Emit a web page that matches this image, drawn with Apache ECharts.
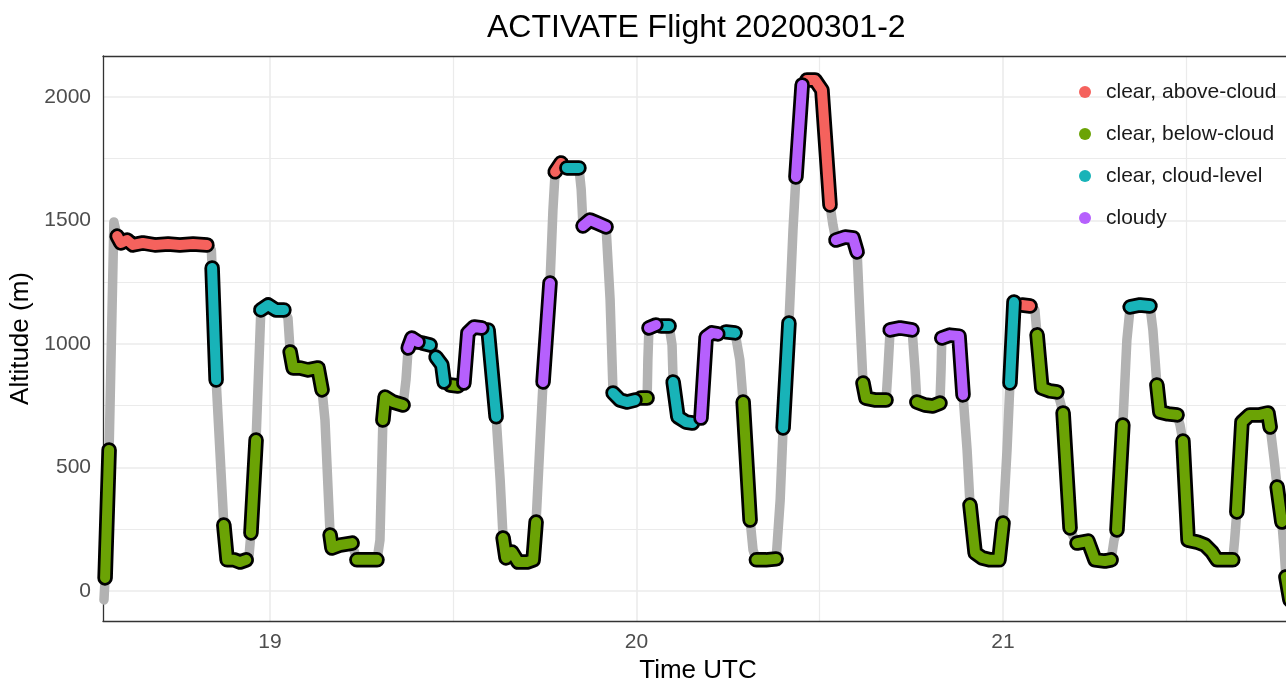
<!DOCTYPE html>
<html>
<head>
<meta charset="utf-8">
<script src="https://cdn.jsdelivr.net/npm/echarts@6/dist/echarts.min.js"></script>
<style>
html,body{margin:0;padding:0;background:#ffffff;}
#chart{width:1286px;height:683px;}
</style>
</head>
<body>
<div id="chart"></div>
<script>
// ---- data ----
const categories = ['clear, above-cloud', 'clear, below-cloud', 'clear, cloud-level', 'cloudy'];
const categoryColors = ['#F5625D', '#6BA305', '#18B3B8', '#B660FD'];

// flight time (decimal hours UTC)
const timeUTC = [
  18.547, 18.550, 18.561, 18.574, 18.583, 18.593, 18.610, 18.626, 18.653, 18.686,
  18.722, 18.754, 18.790, 18.828, 18.840, 18.842, 18.853, 18.874, 18.883, 18.902,
  18.918, 18.935, 18.943, 18.948, 18.962, 18.975, 18.995, 19.016, 19.038, 19.049,
  19.055, 19.063, 19.082, 19.104, 19.131, 19.142, 19.150, 19.164, 19.169, 19.191,
  19.224, 19.229, 19.237, 19.265, 19.292, 19.300, 19.308, 19.314, 19.336, 19.363,
  19.371, 19.377, 19.387, 19.404, 19.415, 19.437, 19.447, 19.453, 19.469, 19.475,
  19.491, 19.513, 19.529, 19.540, 19.557, 19.578, 19.595, 19.617, 19.628, 19.636,
  19.644, 19.660, 19.677, 19.701, 19.718, 19.726, 19.737, 19.745, 19.764, 19.772,
  19.778, 19.794, 19.810, 19.843, 19.849, 19.854, 19.873, 19.892, 19.917, 19.928,
  19.936, 19.955, 19.974, 19.996, 20.012, 20.029, 20.031, 20.034, 20.053, 20.067,
  20.089, 20.097, 20.100, 20.113, 20.135, 20.153, 20.176, 20.190, 20.206, 20.222,
  20.244, 20.269, 20.282, 20.291, 20.310, 20.318, 20.327, 20.353, 20.381, 20.392,
  20.400, 20.416, 20.427, 20.435, 20.452, 20.465, 20.487, 20.506, 20.528, 20.536,
  20.544, 20.569, 20.591, 20.602, 20.610, 20.618, 20.626, 20.653, 20.681, 20.686,
  20.692, 20.719, 20.752, 20.760, 20.765, 20.787, 20.809, 20.828, 20.831, 20.833,
  20.855, 20.880, 20.891, 20.902, 20.910, 20.924, 20.943, 20.965, 20.989, 21.000,
  21.011, 21.019, 21.030, 21.052, 21.074, 21.087, 21.093, 21.106, 21.128, 21.147,
  21.155, 21.164, 21.183, 21.191, 21.202, 21.232, 21.251, 21.278, 21.295, 21.303,
  21.311, 21.327, 21.338, 21.347, 21.374, 21.401, 21.409, 21.420, 21.428, 21.450,
  21.475, 21.483, 21.491, 21.505, 21.530, 21.551, 21.570, 21.584, 21.605, 21.627,
  21.632, 21.638, 21.652, 21.673, 21.701, 21.723, 21.729, 21.740, 21.748, 21.761,
  21.767, 21.772, 21.783
];

// altitude (m)
const altitude = [
  -36, 53, 571, 1494, 1437, 1409, 1421, 1401, 1409, 1401,
  1405, 1401, 1405, 1401, 1380, 1308, 854, 267, 126, 126,
  117, 126, 146, 235, 611, 1138, 1158, 1138, 1138, 1105,
  968, 903, 903, 895, 903, 814, 692, 227, 174, 186,
  194, 166, 126, 126, 126, 206, 692, 785, 765, 753,
  854, 984, 1024, 1008, 1004, 996, 976, 947, 915, 846,
  834, 830, 842, 1045, 1069, 1065, 1057, 705, 449, 215,
  134, 158, 117, 117, 126, 279, 611, 846, 1247, 1543,
  1697, 1733, 1713, 1713, 1628, 1478, 1502, 1490, 1474, 1178,
  802, 773, 765, 773, 781, 781, 935, 1065, 1077, 1073,
  1073, 996, 846, 705, 684, 680, 700, 1028, 1045, 1041,
  1049, 1045, 935, 765, 287, 166, 126, 126, 130, 368,
  660, 1085, 1462, 1676, 2049, 2069, 2069, 2028, 1563, 1482,
  1421, 1433, 1429, 1373, 1097, 842, 781, 773, 773, 895,
  1057, 1065, 1057, 895, 765, 753, 749, 761, 895, 1024,
  1036, 1032, 794, 571, 348, 154, 134, 126, 126, 275,
  571, 842, 1170, 1158, 1154, 1138, 1037, 822, 810, 806,
  773, 721, 255, 223, 194, 202, 126, 121, 126, 206,
  247, 672, 1016, 1150, 1158, 1154, 1057, 834, 725, 717,
  713, 672, 607, 206, 198, 186, 158, 126, 126, 126,
  206, 320, 684, 713, 713, 721, 664, 530, 421, 279,
  166, 57, -36
];

// sky condition index into categories (-1 = track only, no classification)
const condition = [
  -1, 1, 1, -1, 0, 0, 0, 0, 0, 0,
  0, 0, 0, 0, -1, 2, 2, 1, 1, 1,
  1, 1, -1, 1, 1, 2, 2, 2, 2, -1,
  1, 1, 1, 1, 1, 1, -1, 1, 1, 1,
  1, -1, 1, 1, 1, -1, 1, 1, 1, 1,
  -1, 3, 3, 3, 2, 2, -1, 2, 2, 2,
  1, 1, 3, 3, 3, 3, 2, 2, -1, 1,
  1, 1, 1, 1, 1, 1, -1, 3, 3, -1,
  0, 0, 2, 2, -1, 3, 3, 3, 3, -1,
  2, 2, 2, 2, 1, 1, -1, 3, 3, 2,
  2, -1, 2, 2, 2, 2, 3, 3, 3, 3,
  2, 2, -1, 1, 1, -1, 1, 1, 1, -1,
  2, 2, -1, 3, 3, 0, 0, 0, 0, -1,
  3, 3, 3, 3, -1, 1, 1, 1, 1, -1,
  3, 3, 3, -1, 1, 1, 1, 1, -1, 3,
  3, 3, 3, -1, 1, 1, 1, 1, 1, 1,
  -1, 2, 2, 0, 0, -1, 1, 1, 1, 1,
  -1, 1, 1, -1, 1, 1, 1, 1, 1, -1,
  1, 1, -1, 2, 2, 2, -1, 1, 1, 1,
  1, -1, 1, 1, 1, 1, 1, 1, 1, 1,
  -1, 1, 1, 1, 1, 1, 1, -1, 1, 1,
  -1, 1, 1
];

const xTickLabels = ['19', '20', '21'];
const yTickLabels = ['0', '500', '1000', '1500', '2000'];

// ---- chart ----
const FONT = '"Liberation Sans", Arial, Helvetica, sans-serif';
const chart = echarts.init(document.getElementById('chart'), null, { renderer: 'canvas' });

const track = timeUTC.map((t, i) => [t, altitude[i]]);
function segmentData(k) {
  return timeUTC.map((t, i) => condition[i] === k ? [t, altitude[i]] : [t, null]);
}

const series = [{
  name: 'track',
  type: 'line',
  data: track,
  showSymbol: false,
  silent: true,
  lineStyle: { color: '#B2B2B2', width: 9.5, cap: 'round', join: 'round' },
  z: 2
}];
categories.forEach((name, k) => {
  const d = segmentData(k);
  series.push({
    name: 'outline-' + k,
    type: 'line',
    data: d,
    showSymbol: false,
    connectNulls: false,
    silent: true,
    itemStyle: { color: '#000' },
    lineStyle: { color: '#000', width: 15.5, cap: 'round', join: 'round' },
    z: 3 + 2 * k
  });
  series.push({
    name: name,
    type: 'line',
    data: d,
    showSymbol: false,
    connectNulls: false,
    silent: true,
    itemStyle: { color: categoryColors[k] },
    lineStyle: { color: categoryColors[k], width: 10, cap: 'round', join: 'round' },
    z: 4 + 2 * k
  });
});

const XMIN = 18.5443, XMAX = 21.7913, YMIN = -121.5, YMAX = 2166;

chart.setOption({
  animation: false,
  backgroundColor: '#ffffff',
  textStyle: { fontFamily: FONT },
  title: {
    text: 'ACTIVATE Flight 20200301-2',
    left: 482,
    top: 7,
    textStyle: { fontFamily: FONT, fontSize: 32, fontWeight: 'normal', color: '#000' }
  },
  legend: {
    data: categories,
    orient: 'vertical',
    left: 1074,
    top: 75,
    icon: 'circle',
    itemWidth: 32,
    itemHeight: 12,
    itemGap: 18,
    itemStyle: { borderWidth: 0 },
    textStyle: { fontFamily: FONT, fontSize: 21, color: '#1a1a1a', lineHeight: 24 },
    selectedMode: false
  },
  grid: { left: 103, right: -7, top: 56, bottom: 62, containLabel: false, outerBoundsMode: 'none' },
  xAxis: [{
    type: 'value',
    min: XMIN, max: XMAX,
    minInterval: 1, maxInterval: 1, splitNumber: 3,
    axisLine: { show: true, onZero: false, lineStyle: { color: '#333333', width: 1.3 } },
    axisTick: { show: false },
    axisLabel: {
      color: '#4D4D4D', fontSize: 21, fontFamily: FONT, margin: 11,
      showMinLabel: false, showMaxLabel: false,
      formatter: v => { const s = String(Math.round(v)); return xTickLabels.includes(s) && Math.abs(v - Math.round(v)) < 1e-6 ? s : ''; }
    },
    splitLine: { show: true, showMinLine: false, showMaxLine: false, lineStyle: { color: '#EBEBEB', width: 1.6 } },
    minorTick: { show: false, splitNumber: 2 },
    minorSplitLine: { show: true, lineStyle: { color: '#EBEBEB', width: 1.2 } },
    name: 'Time UTC',
    nameLocation: 'middle',
    nameGap: 36,
    nameTextStyle: { fontFamily: FONT, fontSize: 26, color: '#000' }
  }, {
    type: 'value',
    position: 'top',
    min: XMIN, max: XMAX,
    minInterval: 1, maxInterval: 1, splitNumber: 3,
    axisLine: { show: true, onZero: false, lineStyle: { color: '#333333', width: 1.3 } },
    axisTick: { show: false },
    axisLabel: { show: false },
    splitLine: { show: false }
  }],
  yAxis: {
    type: 'value',
    min: YMIN, max: YMAX,
    minInterval: 500, maxInterval: 500, splitNumber: 4,
    axisLine: { show: true, onZero: false, lineStyle: { color: '#333333', width: 1.3 } },
    axisTick: { show: false },
    axisLabel: {
      color: '#4D4D4D', fontSize: 21, fontFamily: FONT, margin: 12,
      showMinLabel: false, showMaxLabel: false,
      formatter: v => { const s = String(Math.round(v)); return yTickLabels.includes(s) ? s : ''; }
    },
    splitLine: { show: true, showMinLine: false, showMaxLine: false, lineStyle: { color: '#EBEBEB', width: 1.6 } },
    minorTick: { show: false, splitNumber: 2 },
    minorSplitLine: { show: true, lineStyle: { color: '#EBEBEB', width: 1.2 } },
    name: 'Altitude (m)',
    nameLocation: 'middle',
    nameRotate: 90,
    nameGap: 63,
    nameTextStyle: { fontFamily: FONT, fontSize: 26, color: '#000' }
  },
  series: series
});
</script>
</body>
</html>
